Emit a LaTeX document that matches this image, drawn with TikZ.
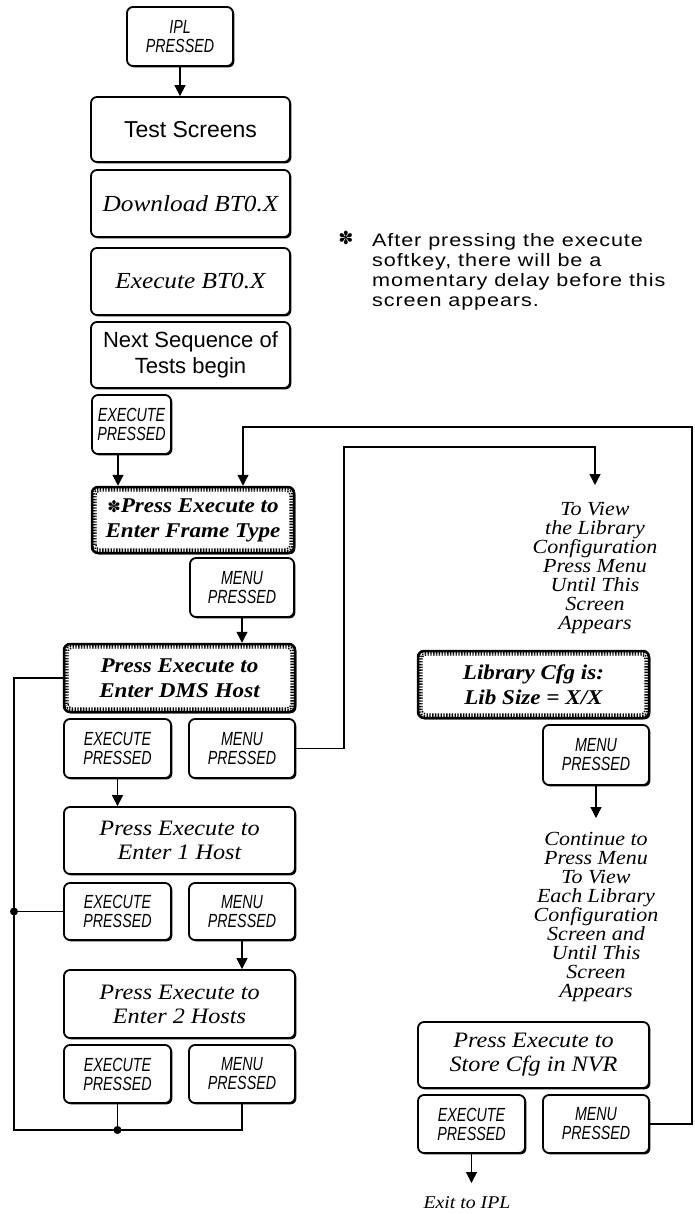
\documentclass[tikz,border=0pt]{standalone}
\usepackage{fontspec}
\setmainfont{Liberation Serif}
\newfontfamily\ser[FakeStretch=1.1]{Liberation Serif}
\newfontfamily\hv{Liberation Sans}
\newfontfamily\hvw[LetterSpace=5,FakeStretch=1.2]{Liberation Sans}
\newfontfamily\cn[FakeStretch=0.75]{Liberation Sans}
\newfontfamily\sym{DejaVu Sans}
\usetikzlibrary{arrows.meta,calc,shadows}
\tikzset{
  box/.style={draw, fill=white, line width=1.8pt, rounded corners=6pt, inner sep=0pt, align=center,
    drop shadow={shadow xshift=1.4pt, shadow yshift=-1.4pt, opacity=1, fill=black}},
  keybox/.style={box, font=\cn\itshape\fontsize{19}{19}\selectfont},
  sansbox/.style={box, font=\hv\fontsize{23}{26}\selectfont},
  itbox/.style={box, font=\ser\itshape\fontsize{22}{24}\selectfont},
  scrbox/.style={box, line width=2.5pt, font=\ser\bfseries\itshape\fontsize{21}{25}\selectfont},
  note/.style={inner sep=0pt, align=center, font=\ser\itshape\fontsize{20}{19}\selectfont},
  conn/.style={line width=1.3pt},
  arr/.style={conn, -{Triangle[width=11pt,length=11pt]}},
  band/.style={line width=1.4pt, dash pattern=on 1.4pt off 1.4pt, rounded corners=4pt},
}
\begin{document}
\begin{tikzpicture}[x=1pt,y=-1pt]
\useasboundingbox (0,0) rectangle (694,1214);
% left column
\node[keybox, minimum width=106pt, minimum height=59pt] (ipl) at (180,36.5) {IPL\\PRESSED};
\node[sansbox, minimum width=199pt, minimum height=65pt] (test) at (190.5,129.5) {Test Screens};
\node[itbox, font=\ser\itshape\fontsize{23}{24}\selectfont, minimum width=199pt, minimum height=67pt] (down) at (190.5,203.5) {Download BT0.X};
\node[itbox, font=\ser\itshape\fontsize{23}{24}\selectfont, minimum width=199pt, minimum height=67pt] (exe) at (190.5,281.5) {Execute BT0.X};
\node[sansbox, font=\hv\fontsize{22}{26}\selectfont, minimum width=199pt, minimum height=66pt] (next) at (190.5,355) {Next Sequence of\\Tests begin};
\node[keybox, minimum width=79pt, minimum height=59pt] (ep1) at (131.5,424.5) {EXECUTE\\PRESSED};
\node[scrbox, minimum width=202pt, minimum height=66pt] (frame) at (193,520) {{\sym\bfseries\upshape\fontsize{16}{16}\selectfont ✽}Press Execute to\\Enter Frame Type};
\node[keybox, minimum width=104pt, minimum height=59pt] (mp1) at (242,587.5) {MENU\\PRESSED};
\node[scrbox, minimum width=231pt, minimum height=68pt] (dms) at (179.5,678) {Press Execute to\\Enter DMS Host};
\node[keybox, minimum width=107pt, minimum height=59pt] (ep2) at (117.5,748.5) {EXECUTE\\PRESSED};
\node[keybox, minimum width=106pt, minimum height=59pt] (mp2) at (242,748.5) {MENU\\PRESSED};
\node[itbox, minimum width=231pt, minimum height=67pt] (host1) at (179.5,840.5) {Press Execute to\\Enter 1 Host};
\node[keybox, minimum width=107pt, minimum height=57pt] (ep3) at (117.5,911.5) {EXECUTE\\PRESSED};
\node[keybox, minimum width=106pt, minimum height=57pt] (mp3) at (242,911.5) {MENU\\PRESSED};
\node[itbox, minimum width=231pt, minimum height=68pt] (host2) at (179.5,1004) {Press Execute to\\Enter 2 Hosts};
\node[keybox, minimum width=107pt, minimum height=58pt] (ep4) at (117.5,1074) {EXECUTE\\PRESSED};
\node[keybox, minimum width=106pt, minimum height=58pt] (mp4) at (242,1074) {MENU\\PRESSED};
% right column
\node[scrbox, minimum width=231pt, minimum height=67pt] (lib) at (533.5,684.5) {Library Cfg is:\\Lib Size = X/X};
\node[keybox, minimum width=106pt, minimum height=60pt] (mp5) at (596,755) {MENU\\PRESSED};
\node[itbox, minimum width=231pt, minimum height=66pt] (store) at (533.5,1055) {Press Execute to\\Store Cfg in NVR};
\node[keybox, minimum width=107pt, minimum height=58pt] (ep5) at (471.5,1124) {EXECUTE\\PRESSED};
\node[keybox, minimum width=106pt, minimum height=58pt] (mp6) at (596,1124) {MENU\\PRESSED};
% texts
\node[note, anchor=north] (toview) at (595,502) {To View\\the Library\\Configuration\\Press Menu\\Until This\\Screen\\Appears};
\node[note, anchor=north] (cont) at (596,832) {Continue to\\Press Menu\\To View\\Each Library\\Configuration\\Screen and\\Until This\\Screen\\Appears};
\node[note, font=\ser\itshape\fontsize{18}{18}\selectfont] (exit) at (467,1203) {Exit to IPL};
\node[inner sep=0pt, font=\sym\bfseries\fontsize{18}{18}\selectfont] (star) at (346,238) {✽};
\node[inner sep=0pt, anchor=north west, align=left, font=\hvw\fontsize{18}{20}\selectfont] (expl) at (372,233) {After pressing the execute\\softkey, there will be a\\momentary delay before this\\screen appears.};
% textured borders
\foreach \n in {frame,dms,lib}{
  \draw[band] ([xshift=2.4pt,yshift=2.4pt]\n.south west) rectangle ([xshift=-2.4pt,yshift=-2.4pt]\n.north east);
  \draw[band, dash phase=1.4pt] ([xshift=3.8pt,yshift=3.8pt]\n.south west) rectangle ([xshift=-3.8pt,yshift=-3.8pt]\n.north east);
  \draw[band] ([xshift=5.2pt,yshift=5.2pt]\n.south west) rectangle ([xshift=-5.2pt,yshift=-5.2pt]\n.north east);
}
% coordinates
\coordinate (a1) at ($(ep1.south)+(-13.5,0)$);
\coordinate (fT) at ($(frame.north)+(50,0)$);
\coordinate (R1) at (344,447);
\coordinate (R2) at (692,427);
\coordinate (tv) at (595,485);
\coordinate (cv) at (596,818);
\coordinate (xv) at (471.5,1183);
\coordinate (LB) at (14,1130);
% connectors
\draw[arr] (ipl.south) -- (ipl.south |- test.north);
\draw[arr] (a1) -- (a1 |- frame.north);
\draw[arr] (mp1.south) -- (mp1.south |- dms.north);
\draw[arr] (ep2.south) -- (ep2.south |- host1.north);
\draw[arr] (mp3.south) -- (mp3.south |- host2.north);
\draw[conn] (dms.west) -| (LB) -- (mp4.south |- LB) -- (mp4.south);
\draw[conn] (ep4.south) -- (ep4.south |- LB);
\draw[conn] (ep3.west) -- (ep3.west -| LB);
\fill (ep3.west -| LB) circle (4pt);
\fill (ep4.south |- LB) circle (4pt);
\draw[arr] (mp2.east) -| (R1) -| (tv);
\draw[arr] (mp6.east) -| (R2) -| (fT);
\draw[arr] (mp5.south) -- (cv);
\draw[arr] (ep5.south) -- (xv);
\end{tikzpicture}
\end{document}
